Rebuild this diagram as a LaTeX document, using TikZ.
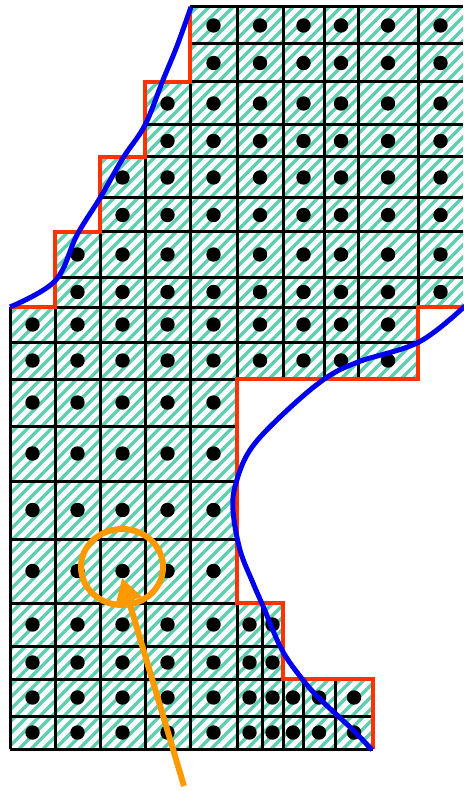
\documentclass[tikz,border=0pt]{standalone}
\usetikzlibrary{arrows.meta}
\definecolor{hatchc}{RGB}{95,208,175}
\definecolor{redb}{RGB}{255,51,0}
\definecolor{blueb}{RGB}{0,0,240}
\definecolor{orangeb}{RGB}{255,153,0}
\tikzset{
  gridline/.style={draw=black, line width=3pt},
  redline/.style={draw=redb, line width=4pt, line join=miter},
  blueline/.style={draw=blueb, line width=5pt},
  hatchline/.style={draw=hatchc, line width=3.3pt},
  dotmark/.style={fill=black},
  orangestroke/.style={draw=orangeb, line width=6pt}
}
\begin{document}
\begin{tikzpicture}[x=1pt,y=-1pt]
\useasboundingbox (0,0) rectangle (463,791);
% hatched region
\begin{scope}
\clip (190,7) -- (463,7) -- (463,307) -- (418,307) -- (418,379) -- (237,379) -- (237,603)
  -- (283,603) -- (283,679) -- (373,679) -- (373,749) -- (10,749) -- (10,307) -- (55,307)
  -- (55,232) -- (100,232) -- (100,157) -- (145,157) -- (145,82) -- (190,82) -- cycle;
\foreach \k in {-800,-788,...,470}{
  \draw[hatchline] (\k,800) -- (\k+800,0);
}
\end{scope}
% horizontal grid lines
\draw[gridline] (190,7) -- (463,7);
\draw[gridline] (190,44) -- (463,44);
\draw[gridline] (190,82) -- (463,82);
\draw[gridline] (145,125) -- (463,125);
\draw[gridline] (145,157) -- (463,157);
\draw[gridline] (100,198) -- (463,198);
\draw[gridline] (100,232) -- (463,232);
\draw[gridline] (55,277) -- (463,277);
\draw[gridline] (55,307) -- (418,307);
\draw[gridline] (10,342) -- (418,342);
\draw[gridline] (10,379) -- (237,379);
\draw[gridline] (10,426) -- (237,426);
\draw[gridline] (10,481) -- (237,481);
\draw[gridline] (10,539) -- (237,539);
\draw[gridline] (10,603) -- (237,603);
\draw[gridline] (10,646) -- (283,646);
\draw[gridline] (10,679) -- (283,679);
\draw[gridline] (10,716) -- (373,716);
\draw[gridline] (10,749) -- (373,749);
% vertical grid lines
\draw[gridline] (10,307) -- (10,749);
\draw[gridline] (55,307) -- (55,749);
\draw[gridline] (100,232) -- (100,749);
\draw[gridline] (145,157) -- (145,749);
\draw[gridline] (190,82) -- (190,749);
\draw[gridline] (237,7) -- (237,379);
\draw[gridline] (237,603) -- (237,749);
\draw[gridline] (262,603) -- (262,749);
\draw[gridline] (283,7) -- (283,379);
\draw[gridline] (283,679) -- (283,749);
\draw[gridline] (303,679) -- (303,749);
\draw[gridline] (324,7) -- (324,379);
\draw[gridline] (335,679) -- (335,749);
\draw[gridline] (358,7) -- (358,379);
\draw[gridline] (418,7) -- (418,307);
% dots
\foreach \y in {25.5,63}{\foreach \x in {213.5,260,303.5,341,388,440.5}{\fill[dotmark] (\x,\y) circle (7.2);}}
\foreach \y in {103.5,141}{\foreach \x in {167.5,213.5,260,303.5,341,388,440.5}{\fill[dotmark] (\x,\y) circle (7.2);}}
\foreach \y in {177.5,215}{\foreach \x in {122.5,167.5,213.5,260,303.5,341,388,440.5}{\fill[dotmark] (\x,\y) circle (7.2);}}
\foreach \y in {254.5,292}{\foreach \x in {77.5,122.5,167.5,213.5,260,303.5,341,388,440.5}{\fill[dotmark] (\x,\y) circle (7.2);}}
\foreach \y in {324.5,360.5}{\foreach \x in {32.5,77.5,122.5,167.5,213.5,260,303.5,341,388}{\fill[dotmark] (\x,\y) circle (7.2);}}
\foreach \y in {402.5,453.5,510,571}{\foreach \x in {32.5,77.5,122.5,167.5,213.5}{\fill[dotmark] (\x,\y) circle (7.2);}}
\foreach \y in {624.5,662.5}{\foreach \x in {32.5,77.5,122.5,167.5,213.5,249.5,272.5}{\fill[dotmark] (\x,\y) circle (7.2);}}
\foreach \y in {697.5,732.5}{\foreach \x in {32.5,77.5,122.5,167.5,213.5,249.5,272.5,293,319,354}{\fill[dotmark] (\x,\y) circle (7.2);}}
% red boundary
\draw[redline] (190,7) -- (190,82) -- (145,82) -- (145,157) -- (100,157) -- (100,232) -- (55,232) -- (55,307) -- (10,307);
\draw[redline] (465,307) -- (418,307) -- (418,379) -- (237,379) -- (237,603) -- (283,603) -- (283,679) -- (373,679) -- (373,749);
% blue curves
\draw[blueline] plot[smooth, tension=0.6] coordinates {(10,307) (55,281) (77,235) (100,198) (123,158) (145,125) (163,80) (177,46) (191,7)};
\draw[blueline] plot[smooth, tension=0.6] coordinates {(465,306) (419,342) (358,362) (323,380) (280,417) (250,450) (236,483) (233,510) (240,550) (253,583) (263,606) (282,650) (303,680) (320,699) (353,730) (372,750)};
% orange marker
\draw[orangestroke] (122,567) ellipse (41 and 38);
\coordinate (tail) at (184,786);
\coordinate (tip) at (122,578);
\draw[orangestroke, -{Triangle[length=24pt,width=26pt]}] (tail) -- (tip);
\end{tikzpicture}
\end{document}
